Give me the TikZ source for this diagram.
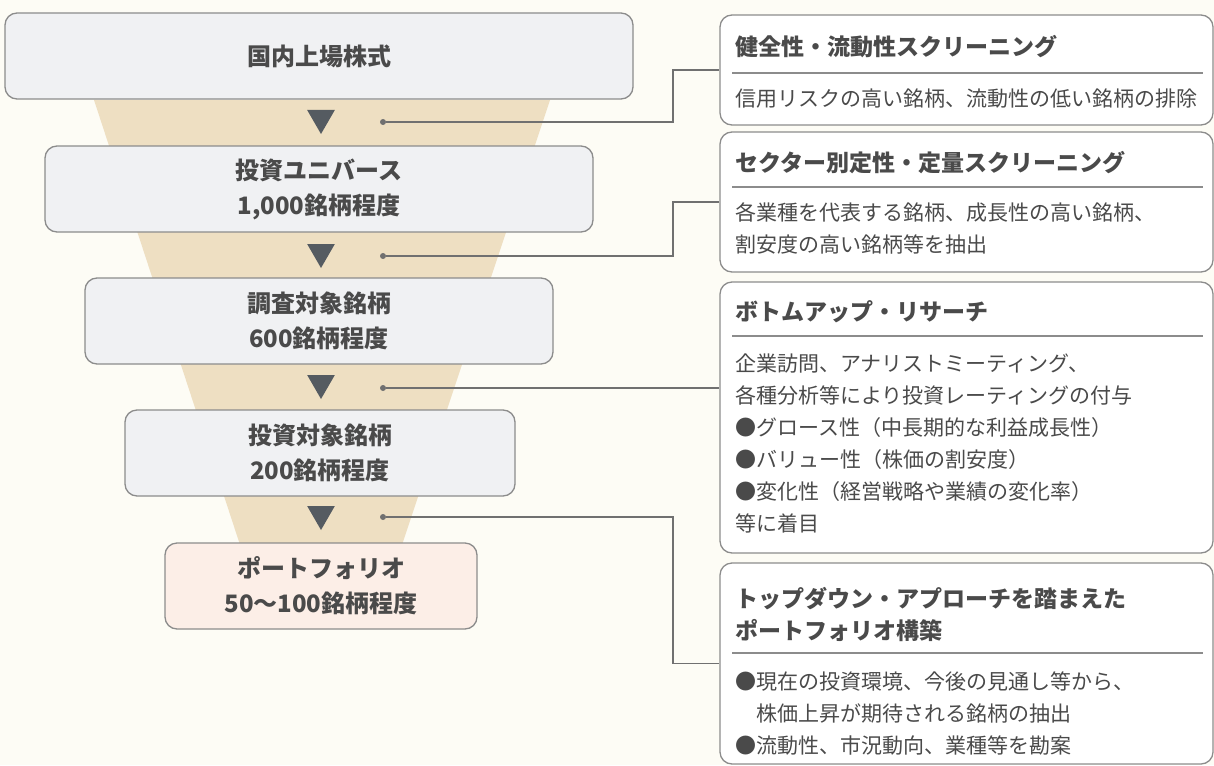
\documentclass[tikz,border=0pt]{standalone}
\usepackage{fontspec}
\newfontfamily\jp{Noto Sans CJK JP}
\usetikzlibrary{positioning}
\usetikzlibrary{shapes.geometric}
\definecolor{CREAM}{HTML}{FDFCF5}
\definecolor{FUNNEL}{HTML}{EEDFC2}
\definecolor{STAGE}{HTML}{F0F1F3}
\definecolor{PINK}{HTML}{FCEEE7}
\definecolor{EDGE}{HTML}{8C8C8C}
\definecolor{INK}{HTML}{4A4A4A}
\definecolor{TRI}{HTML}{555B61}
\definecolor{LINK}{HTML}{707070}
\tikzset{
	every node/.style = {font=\jp, text=INK},
	stage/.style = {draw=EDGE, line width=1.3pt, rounded corners=12pt, fill=STAGE,
		align=center, inner sep=0pt, minimum height=86pt,
		font=\jp\bfseries\fontsize{24}{35}\selectfont},
	tri/.style = {regular polygon, regular polygon sides=3, shape border rotate=180,
		fill=TRI, minimum size=32pt, inner sep=0pt},
	dot/.style = {circle, fill=LINK, minimum size=6pt, inner sep=0pt},
	link/.style = {draw=LINK, line width=1.2pt},
	note/.style = {draw=EDGE, line width=1.3pt, rounded corners=12pt, fill=white,
		minimum width=493pt, inner sep=0pt},
	head/.style = {anchor=west, inner sep=0pt, align=left,
		font=\jp\bfseries\fontsize{23}{32}\selectfont},
	body/.style = {anchor=north west, inner sep=0pt, align=left,
		font=\jp\fontsize{21}{32}\selectfont},
	rule/.style = {draw=EDGE, line width=1.2pt}
}
\begin{document}
\begin{tikzpicture}[x=1pt, y=-1pt]
		\useasboundingbox (0,0) rectangle (1214,765);
		\fill[CREAM] (0,0) rectangle (1214,765);
		% funnel
		\fill[FUNNEL] (94,100) -- (550,100) -- (397,560) -- (245,560) -- cycle;
		% stages
		\node[stage, minimum width=628pt] (listed) at (319,56) {国内上場株式};
		\node[stage, minimum width=548pt] (universe) at (319,189) {投資ユニバース\\1,000銘柄程度};
		\node[stage, minimum width=468pt] (research) at (319,321) {調査対象銘柄\\600銘柄程度};
		\node[stage, minimum width=390pt] (target) at (320,453) {投資対象銘柄\\200銘柄程度};
		\node[stage, minimum width=312pt, fill=PINK] (portfolio) at (321,586) {ポートフォリオ\\50〜100銘柄程度};
		% arrows and dots
		\node[tri] (t1) at (321,118) {};
		\node[tri] (t2) at (321,252) {};
		\node[tri] (t3) at (321,383) {};
		\node[tri] (t4) at (321,514) {};
		\node[dot] (d1) at (383,122) {};
		\node[dot] (d2) at (383,256) {};
		\node[dot] (d3) at (383,388) {};
		\node[dot] (d4) at (383,517) {};
		% screening notes
		\node[note, minimum height=110pt] (scr1) at (966.5,70) {};
		\node[note, minimum height=140pt] (scr2) at (966.5,202) {};
		\node[note, minimum height=271pt] (scr3) at (966.5,417.5) {};
		\node[note, minimum height=201pt] (scr4) at (966.5,663.5) {};
		\node[head] (h1) at (735,47) {健全性・流動性スクリーニング};
		\draw[rule] (732,73) -- (1203,73);
		\node[body] (b1) at (735,89) {信用リスクの高い銘柄、流動性の低い銘柄の排除};
		\node[head] (h2) at (735,163) {セクター別定性・定量スクリーニング};
		\draw[rule] (732,187) -- (1203,187);
		\node[body] (b2) at (735,202) {各業種を代表する銘柄、成長性の高い銘柄、\\割安度の高い銘柄等を抽出};
		\node[head] (h3) at (735,312) {ボトムアップ・リサーチ};
		\draw[rule] (732,336) -- (1203,336);
		\node[body] (b3) at (735,354) {企業訪問、アナリストミーティング、\\各種分析等により投資レーティングの付与\\●グロース性（中長期的な利益成長性）\\●バリュー性（株価の割安度）\\●変化性（経営戦略や業績の変化率）\\等に着目};
		\node[head] (h4) at (735,614) {トップダウン・アプローチを踏まえた\\ポートフォリオ構築};
		\draw[rule] (732,653) -- (1203,653);
		\node[body] (b4) at (735,672) {●現在の投資環境、今後の見通し等から、\\　株価上昇が期待される銘柄の抽出\\●流動性、市況動向、業種等を勘案};
		% connectors
		\coordinate (elbow) at (673,0);
		\draw[link] (d1) -| (elbow |- scr1.west) -- (scr1.west);
		\draw[link] (d2) -| (elbow |- scr2.west) -- (scr2.west);
		\draw[link] (d3) -- (d3 -| scr3.west);
		\draw[link] (d4) -| (elbow |- scr4.west) -- (scr4.west);
	\end{tikzpicture}
\end{document}
